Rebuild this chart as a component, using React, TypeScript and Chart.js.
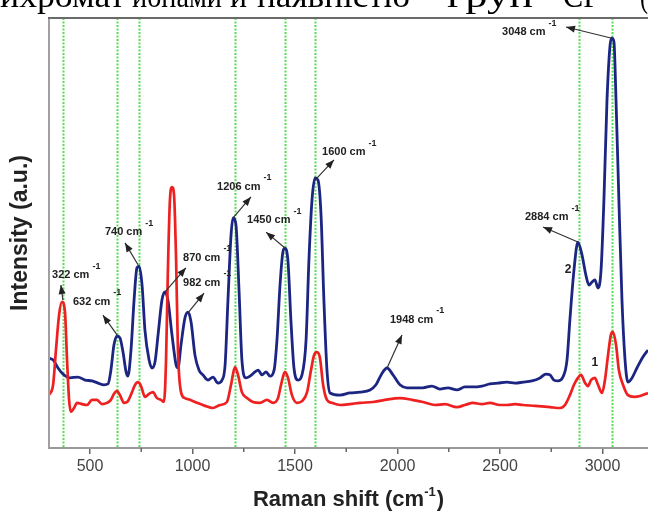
import React, { useEffect, useRef } from "react";
import { Chart, registerables } from "chart.js";
Chart.register(...registerables);

// Curve 2 (blue)
const blueShift = [300, 320, 344, 368, 402, 441, 476, 510, 539, 568, 588, 602, 617, 632, 646, 661, 676, 685, 700, 715, 729, 739, 754, 768, 788, 802, 817, 832, 851, 866, 880, 900, 920, 929, 944, 963, 978, 993, 1012, 1032, 1051, 1076, 1100, 1124, 1144, 1159, 1173, 1188, 1198, 1212, 1227, 1241, 1261, 1280, 1305, 1320, 1339, 1359, 1378, 1398, 1412, 1427, 1441, 1451, 1466, 1480, 1495, 1515, 1534, 1554, 1568, 1583, 1598, 1612, 1627, 1641, 1656, 1671, 1720, 1768, 1817, 1866, 1895, 1920, 1949, 1978, 2012, 2046, 2085, 2124, 2168, 2207, 2246, 2290, 2329, 2368, 2412, 2451, 2490, 2534, 2573, 2612, 2656, 2695, 2724, 2744, 2763, 2783, 2807, 2827, 2841, 2861, 2880, 2900, 2919, 2934, 2949, 2963, 2978, 2993, 3007, 3022, 3037, 3046, 3056, 3066, 3080, 3095, 3110, 3124, 3144, 3168, 3198, 3222];
const blueIntensity = [20.9, 20.5, 18.6, 17.2, 16.3, 16.5, 15.8, 15.6, 15.1, 14.7, 14.9, 18.1, 24.0, 26.0, 25.6, 22.3, 17.7, 16.7, 22.8, 34.4, 41.9, 42.3, 37.9, 27.4, 20.5, 18.6, 20.0, 26.3, 34.4, 36.3, 34.4, 26.3, 19.3, 18.6, 24.0, 30.2, 31.6, 29.3, 21.6, 18.1, 17.0, 15.8, 16.5, 15.1, 15.8, 19.3, 34.4, 49.5, 53.5, 51.9, 36.7, 20.5, 16.3, 16.7, 17.7, 18.1, 17.0, 17.7, 16.7, 18.1, 25.1, 37.9, 45.6, 46.5, 43.3, 29.8, 18.6, 15.8, 17.0, 25.1, 43.7, 57.7, 62.8, 62.3, 54.2, 34.4, 18.1, 12.8, 12.3, 12.8, 13.0, 13.5, 14.7, 17.0, 18.6, 17.0, 14.7, 14.0, 14.0, 14.0, 14.4, 13.7, 14.0, 13.5, 14.2, 14.2, 14.4, 14.9, 15.1, 15.3, 15.1, 15.3, 15.6, 16.3, 17.2, 17.0, 15.8, 15.6, 16.5, 20.5, 29.8, 41.4, 47.9, 44.9, 40.2, 37.9, 38.6, 39.1, 37.2, 41.4, 57.7, 80.9, 93.7, 95.3, 94.4, 80.9, 57.7, 34.4, 20.5, 15.3, 16.3, 18.6, 21.2, 22.8];

// Curve 1 (red)
const redShift = [300, 320, 334, 349, 363, 378, 388, 398, 407, 422, 437, 461, 485, 510, 534, 559, 583, 602, 617, 632, 646, 666, 685, 705, 720, 734, 749, 768, 788, 807, 827, 846, 861, 871, 880, 890, 900, 910, 920, 929, 944, 963, 988, 1022, 1061, 1100, 1134, 1168, 1188, 1207, 1222, 1241, 1266, 1295, 1329, 1363, 1393, 1417, 1432, 1451, 1466, 1485, 1510, 1534, 1559, 1578, 1593, 1607, 1622, 1637, 1656, 1680, 1720, 1768, 1817, 1880, 1939, 2012, 2071, 2124, 2183, 2232, 2290, 2329, 2368, 2412, 2451, 2500, 2534, 2573, 2612, 2671, 2744, 2793, 2817, 2841, 2861, 2880, 2895, 2915, 2929, 2944, 2963, 2978, 2998, 3012, 3027, 3041, 3051, 3066, 3080, 3100, 3124, 3154, 3183, 3222];
const redIntensity = [12.3, 14.7, 22.8, 30.9, 34.0, 31.6, 20.5, 11.2, 8.4, 9.3, 10.5, 10.2, 10.0, 11.2, 11.2, 10.2, 10.5, 11.2, 12.6, 13.3, 12.3, 10.5, 10.9, 13.0, 14.7, 15.3, 14.4, 11.9, 12.6, 13.0, 11.6, 11.2, 10.7, 20.5, 41.4, 57.7, 60.7, 58.8, 43.7, 22.8, 13.0, 11.6, 11.2, 10.5, 9.8, 9.3, 10.0, 10.7, 14.7, 18.8, 17.0, 13.0, 11.6, 10.7, 10.5, 11.2, 10.5, 11.6, 14.7, 17.7, 16.3, 12.3, 10.5, 10.9, 13.0, 18.1, 21.6, 22.3, 20.9, 14.7, 11.2, 10.5, 10.0, 10.2, 10.5, 10.7, 11.2, 11.6, 11.2, 10.7, 10.0, 10.2, 9.5, 10.0, 10.5, 10.2, 10.5, 10.0, 10.0, 10.2, 10.0, 9.8, 9.5, 9.3, 10.0, 12.3, 14.7, 16.3, 17.0, 15.1, 14.4, 15.8, 16.3, 14.7, 12.8, 15.8, 21.6, 26.3, 27.0, 24.0, 18.1, 14.7, 12.3, 11.9, 12.1, 12.8];

const markerLines = [368, 632, 740, 1206, 1450, 1600, 2884, 3048];
const xTicks = [500, 1000, 1500, 2000, 2500, 3000];
const xMinorTicks = [750, 1250, 1750, 2250, 2750];

const peakLabels = ["322", "632", "740", "870", "982", "1206", "1450", "1600", "1948", "2884", "3048"];
const labelX = [315, 417, 573, 954, 954, 1120, 1266, 1632, 1963, 2622, 2510];
const labelY = [40.2, 34.0, 50.2, 44.2, 38.4, 60.7, 53.0, 68.8, 29.8, 53.7, 96.7];
const arrowFromX = [368, 632, 734, 866, 978, 1198, 1451, 1598, 1949, 2880, 3046];
const arrowFromY = [34.4, 26.3, 42.6, 36.3, 31.4, 53.5, 46.5, 62.3, 18.6, 47.9, 95.3];
const arrowToX = [358, 563, 671, 968, 1056, 1285, 1359, 1690, 2022, 2710, 2822];
const arrowToY = [37.9, 30.9, 47.7, 41.9, 36.0, 58.4, 50.2, 67.0, 26.3, 51.4, 97.9];

const curveNames = ["1", "2"];
const curveLabelX = [2963, 2832];
const curveLabelY = [19.8, 41.5];

const headerWords = ["ихромат", "йонами", "й", "наявністю", "груп", "–", "CF", "–", "("];
const headerStart = [0, 132, 230, 257, 447, 548, 563, 610, 640];
const headerEnd = [125, 222, 247, 410, 533, 560, 600, 622, 648];

const xTitle = "Raman shift (cm";
const yTitle = "Intensity (a.u.)";

const SANS = "'Liberation Sans', Arial, sans-serif";

const overlay = {
  id: "overlay",
  beforeDatasetsDraw(chart: any) {
    const { ctx, chartArea: a, scales } = chart;
    const x = scales.x;
    ctx.save();
    ctx.strokeStyle = "#55dd55";
    ctx.lineWidth = 2;
    ctx.setLineDash([2, 1.5]);
    markerLines.forEach((v) => {
      const px = Math.round(x.getPixelForValue(v)) + 0.5;
      ctx.beginPath();
      ctx.moveTo(px, a.top);
      ctx.lineTo(px, a.bottom);
      ctx.stroke();
    });
    ctx.restore();
  },
  afterDatasetsDraw(chart: any) {
    const { ctx, scales } = chart;
    const x = scales.x;
    const y = scales.y;
    ctx.save();
    for (let i = 0; i < peakLabels.length; i++) {
      const x0 = x.getPixelForValue(arrowFromX[i]);
      const y0 = y.getPixelForValue(arrowFromY[i]);
      const x1 = x.getPixelForValue(arrowToX[i]);
      const y1 = y.getPixelForValue(arrowToY[i]);
      ctx.strokeStyle = "#333";
      ctx.lineWidth = 1.2;
      ctx.beginPath();
      ctx.moveTo(x0, y0);
      ctx.lineTo(x1, y1);
      ctx.stroke();
      const ang = Math.atan2(y1 - y0, x1 - x0);
      const L = 9, W = 3.5;
      ctx.fillStyle = "#222";
      ctx.beginPath();
      ctx.moveTo(x1, y1);
      ctx.lineTo(x1 - L * Math.cos(ang) + W * Math.sin(ang), y1 - L * Math.sin(ang) - W * Math.cos(ang));
      ctx.lineTo(x1 - L * Math.cos(ang) - W * Math.sin(ang), y1 - L * Math.sin(ang) + W * Math.cos(ang));
      ctx.closePath();
      ctx.fill();
    }
    ctx.textBaseline = "middle";
    ctx.textAlign = "left";
    for (let i = 0; i < peakLabels.length; i++) {
      const px = x.getPixelForValue(labelX[i]);
      const py = y.getPixelForValue(labelY[i]);
      ctx.fillStyle = "#222";
      ctx.font = `bold 11px ${SANS}`;
      const t = peakLabels[i] + " cm";
      ctx.fillText(t, px, py);
      const w = ctx.measureText(t).width;
      ctx.font = `bold 9px ${SANS}`;
      ctx.fillText("-1", px + w + 3, py - 9);
    }
    ctx.font = `bold 12px ${SANS}`;
    ctx.textAlign = "center";
    for (let i = 0; i < curveNames.length; i++) {
      ctx.fillText(curveNames[i], x.getPixelForValue(curveLabelX[i]), y.getPixelForValue(curveLabelY[i]));
    }
    ctx.restore();
  },
  afterDraw(chart: any) {
    const { ctx, chartArea: a, scales } = chart;
    const x = scales.x;
    ctx.save();
    ctx.strokeStyle = "#a0a0a0";
    ctx.lineWidth = 2;
    ctx.beginPath();
    ctx.moveTo(a.left, a.bottom);
    ctx.lineTo(a.left, a.top);
    ctx.stroke();
    ctx.strokeStyle = "#6a6a6a";
    ctx.beginPath();
    ctx.moveTo(a.left - 1, a.top);
    ctx.lineTo(a.right, a.top);
    ctx.stroke();
    ctx.strokeStyle = "#666";
    ctx.lineWidth = 1.5;
    xMinorTicks.forEach((v) => {
      const px = x.getPixelForValue(v);
      ctx.beginPath();
      ctx.moveTo(px, a.bottom);
      ctx.lineTo(px, a.bottom + 4);
      ctx.stroke();
    });
    ctx.fillStyle = "#222";
    ctx.textBaseline = "middle";
    ctx.textAlign = "left";
    ctx.font = `bold 22px ${SANS}`;
    const w1 = ctx.measureText(xTitle).width;
    ctx.font = `bold 13px ${SANS}`;
    const w2 = ctx.measureText("-1").width;
    ctx.font = `bold 22px ${SANS}`;
    const w3 = ctx.measureText(")").width;
    const total = w1 + w2 + w3 + 1;
    const sx = (a.left + a.right) / 2 - total / 2;
    const ty = 500;
    ctx.fillText(xTitle, sx, ty);
    ctx.font = `bold 13px ${SANS}`;
    ctx.fillText("-1", sx + w1, ty - 8);
    ctx.font = `bold 22px ${SANS}`;
    ctx.fillText(")", sx + w1 + w2 + 1, ty);
    ctx.save();
    ctx.translate(21, (a.top + a.bottom) / 2);
    ctx.rotate(-Math.PI / 2);
    ctx.textAlign = "center";
    ctx.font = `bold 23px ${SANS}`;
    ctx.fillText(yTitle, 0, 0);
    ctx.restore();
    ctx.fillStyle = "#000";
    ctx.textBaseline = "alphabetic";
    ctx.textAlign = "left";
    ctx.font = "34px 'Liberation Serif', 'DejaVu Serif', serif";
    for (let i = 0; i < headerWords.length; i++) {
      const mw = ctx.measureText(headerWords[i]).width;
      const target = headerEnd[i] - headerStart[i];
      ctx.save();
      ctx.translate(headerStart[i], 7);
      ctx.scale(target / mw, 1);
      ctx.fillText(headerWords[i], 0, 0);
      ctx.restore();
    }
    ctx.restore();
  },
};

export default function App() {
  const ref = useRef<HTMLCanvasElement | null>(null);
  useEffect(() => {
    if (!ref.current) return;
    const chart = new Chart(ref.current, {
      type: "line",
      data: {
        datasets: [
          {
            label: "1",
            data: redShift.map((s, i) => ({ x: s, y: redIntensity[i] })),
            borderColor: "#ee2020",
            borderWidth: 2.7,
            pointRadius: 0,
            cubicInterpolationMode: "monotone",
          },
          {
            label: "2",
            data: blueShift.map((s, i) => ({ x: s, y: blueIntensity[i] })),
            borderColor: "#1c2682",
            borderWidth: 2.8,
            pointRadius: 0,
            cubicInterpolationMode: "monotone",
          },
        ],
      },
      options: {
        animation: false,
        responsive: false,
        maintainAspectRatio: false,
        layout: { padding: { left: 49, top: 18, right: 0, bottom: 0 } },
        plugins: { legend: { display: false }, tooltip: { enabled: false } },
        scales: {
          x: {
            type: "linear",
            min: 300,
            max: 3222,
            afterBuildTicks: (scale: any) => {
              scale.ticks = xTicks.map((v) => ({ value: v }));
            },
            afterFit: (scale: any) => {
              scale.height = 70;
            },
            grid: { drawOnChartArea: false, drawTicks: true, tickLength: 6, color: "#666", lineWidth: 1.5 },
            border: { display: true, color: "#999", width: 2 },
            ticks: {
              font: { family: SANS, size: 16 },
              color: "#444",
              padding: 3,
              maxRotation: 0,
              autoSkip: false,
              callback: (v: any) => String(v),
            },
          },
          y: { display: false, min: 0, max: 100 },
        },
      },
      plugins: [overlay],
    } as any);
    return () => chart.destroy();
  }, []);
  return (
    <div style={{ position: "fixed", left: 0, top: 0, width: 648, height: 518, background: "#fff" }}>
      <canvas ref={ref} width={648} height={518} style={{ width: 648, height: 518, display: "block" }} />
    </div>
  );
}
